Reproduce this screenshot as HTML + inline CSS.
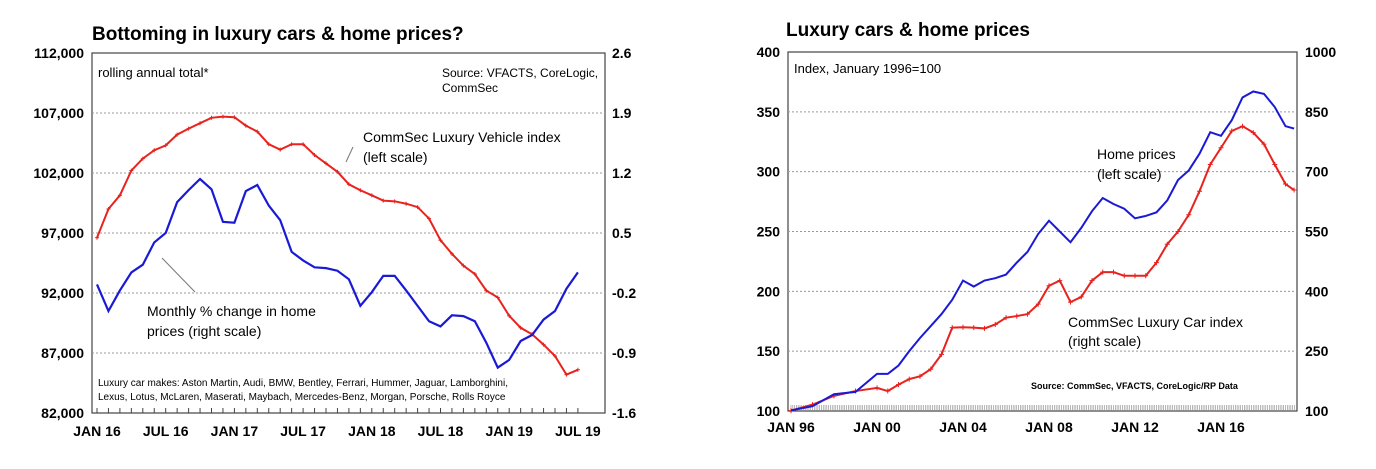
<!DOCTYPE html>
<html><head><meta charset="utf-8"><style>
body{margin:0;background:#fff;width:1376px;height:464px;overflow:hidden;font-family:"Liberation Sans",Arial,sans-serif}
svg text{font-family:"Liberation Sans",Arial,sans-serif}
</style></head><body>
<svg id="s" width="1376" height="464">
<text x="92" y="40" font-size="19" font-weight="bold">Bottoming in luxury cars &amp; home prices?</text>
<text x="786" y="36" font-size="19" font-weight="bold">Luxury cars &amp; home prices</text>
<rect x="92" y="53" width="513" height="360" fill="none" stroke="#444" stroke-width="1.2"/>
<rect x="788" y="52" width="509" height="359" fill="none" stroke="#444" stroke-width="1.2"/>
<g id="L"></g><g id="R"></g>
<text x="98" y="77" font-size="13">rolling annual total*</text>
<text x="442" y="77" font-size="12">Source: VFACTS, CoreLogic,</text>
<text x="442" y="92" font-size="12">CommSec</text>
<text x="363" y="142" font-size="14">CommSec Luxury Vehicle index</text>
<text x="363" y="162" font-size="14">(left scale)</text>
<line x1="353" y1="147" x2="346" y2="162" stroke="#777"/>
<text x="147" y="316" font-size="14">Monthly % change in home</text>
<text x="147" y="336" font-size="14">prices (right scale)</text>
<line x1="162" y1="258" x2="195" y2="292" stroke="#777"/>
<text x="98" y="386" font-size="10">Luxury car makes: Aston Martin, Audi, BMW, Bentley, Ferrari, Hummer, Jaguar, Lamborghini,</text>
<text x="98" y="400" font-size="10">Lexus, Lotus, McLaren, Maserati, Maybach, Mercedes-Benz, Morgan, Porsche, Rolls Royce</text>
<text x="794" y="73" font-size="13">Index, January 1996=100</text>
<text x="1097" y="159" font-size="14">Home prices</text>
<text x="1097" y="179" font-size="14">(left scale)</text>
<text x="1068" y="327" font-size="14">CommSec Luxury Car index</text>
<text x="1068" y="346" font-size="14">(right scale)</text>
<text x="1031" y="389" font-size="9" font-weight="bold">Source: CommSec, VFACTS, CoreLogic/RP Data</text>
</svg>
<script>
const leftCats=43;
const luxVals=[96600,99000,100140,102200,103200,103900,104300,105200,105700,106150,106600,106700,106650,105950,105450,104400,103950,104400,104400,103500,102800,102100,101060,100560,100140,99700,99640,99440,99160,98200,96400,95260,94280,93580,92200,91630,90100,89100,88560,87700,86750,85200,85600];
const homeChg=[-0.10,-0.41,-0.17,0.04,0.13,0.39,0.50,0.86,1.0,1.13,1.01,0.63,0.62,0.99,1.06,0.82,0.65,0.28,0.18,0.10,0.09,0.06,-0.04,-0.35,-0.19,0.0,0.0,-0.17,-0.35,-0.53,-0.59,-0.46,-0.47,-0.53,-0.78,-1.07,-0.98,-0.76,-0.69,-0.51,-0.41,-0.15,0.04];
const leftTicks=["112,000","107,000","102,000","97,000","92,000","87,000","82,000"];
const rightTicksL=["2.6","1.9","1.2","0.5","-0.2","-0.9","-1.6"];
const leftXLabels=["JAN 16","JUL 16","JAN 17","JUL 17","JAN 18","JUL 18","JAN 19","JUL 19"];
const years=[1996,1997,1998,1999,2000,2000.5,2001,2001.5,2002,2002.5,2003,2003.5,2004,2004.5,2005,2005.5,2006,2006.5,2007,2007.5,2008,2008.5,2009,2009.5,2010,2010.5,2011,2011.5,2012,2012.5,2013,2013.5,2014,2014.5,2015,2015.5,2016,2016.5,2017,2017.5,2018,2018.5,2019,2019.4];
const homeIdx=[100.5,104,114,116,131,131,138,150,161,171,181,193,209,204,209,211,214,224,233,248,259,250,241,253,267,278,273,269,261,263,266,276,293,301,315,333,330,343,362,367,365,354,338,336];
const carIdx=[101,116,138,150,158,150,166,180,187,205,242,309,310,309,307,317,334,338,343,368,414,427,373,386,427,448,448,439,439,439,472,518,550,592,651,718,760,802,814,798,769,718,669,654];
const rTicksL=["400","350","300","250","200","150","100"];
const rTicksR=["1000","850","700","550","400","250","100"];
const rXLabels=["JAN 96","JAN 00","JAN 04","JAN 08","JAN 12","JAN 16"];
const NS="http://www.w3.org/2000/svg";
function mk(p,t,a){const e=document.createElementNS(NS,t);for(const k in a)e.setAttribute(k,a[k]);p.appendChild(e);return e;}
// left
const L=document.getElementById('L');
const lx=i=>97+i*11.45, ly=v=>53+(112000-v)*360/30000, ry=v=>53+(2.6-v)*360/4.2;
leftTicks.forEach((t,k)=>{const y=53+k*60;
 if(k>0&&k<6){const g=mk(L,'line',{x1:92,x2:605,y1:y,y2:y,stroke:'#999','stroke-dasharray':'2,2'});
 
 }
 const a=mk(L,'text',{x:84,y:y+5,'font-size':14,'font-weight':'bold','text-anchor':'end'});a.textContent=t;
 
 
 const b=mk(L,'text',{x:612,y:y+5,'font-size':14,'font-weight':'bold'});b.textContent=rightTicksL[k];
 
 });
for(let i=0;i<leftCats;i++){const t=mk(L,'line',{x1:lx(i),x2:lx(i),y1:408,y2:413,stroke:'#444'});
 
 }
leftXLabels.forEach((t,k)=>{const a=mk(L,'text',{x:lx(k*6),y:436,'font-size':14,'font-weight':'bold','text-anchor':'middle'});a.textContent=t;
 
 });
let p=mk(L,'polyline',{points:luxVals.map((v,i)=>lx(i)+','+ly(v)).join(' '),fill:'none',stroke:'#e8231e','stroke-width':2});


luxVals.forEach((v,i)=>{const m=mk(L,'path',{d:`M${lx(i)-2},${ly(v)}h4M${lx(i)},${ly(v)-2}v4`,stroke:'#e8231e','stroke-width':1});
 
 });
p=mk(L,'polyline',{points:homeChg.map((v,i)=>lx(i)+','+ry(v)).join(' '),fill:'none',stroke:'#1a1ad6','stroke-width':2.2});


// right
const R=document.getElementById('R');
const X=y=>791+(y-1996)*21.5, Y=v=>52+(400-v)*359/300, Y2=v=>Y(100+(v-100)/3);
rTicksL.forEach((t,k)=>{const y=52+k*359/6;
 if(k>0&&k<6){const g=mk(R,'line',{x1:788,x2:1297,y1:y,y2:y,stroke:'#999','stroke-dasharray':'2,2'});
 
 }
 const a=mk(R,'text',{x:780,y:y+5,'font-size':14,'font-weight':'bold','text-anchor':'end'});a.textContent=t;
 
 
 const b=mk(R,'text',{x:1305,y:y+5,'font-size':14,'font-weight':'bold'});b.textContent=rTicksR[k];
 
 });
for(let m=0;m<282;m++){const x=X(1996+m/12);const t=mk(R,'line',{x1:x,x2:x,y1:405,y2:411,stroke:'#888','stroke-width':0.6});
 
 }
rXLabels.forEach((t,k)=>{const a=mk(R,'text',{x:X(1996+k*4),y:432,'font-size':14,'font-weight':'bold','text-anchor':'middle'});a.textContent=t;
 
 });
p=mk(R,'polyline',{points:carIdx.map((v,i)=>X(years[i])+','+Y2(v)).join(' '),fill:'none',stroke:'#e8231e','stroke-width':2});


carIdx.forEach((v,i)=>{const x=X(years[i]),y=Y2(v);const m=mk(R,'path',{d:`M${x-2.5},${y}h5M${x},${y-2.5}v5`,stroke:'#e8231e','stroke-width':1});
 
 });
p=mk(R,'polyline',{points:homeIdx.map((v,i)=>X(years[i])+','+Y(v)).join(' '),fill:'none',stroke:'#1a1ad6','stroke-width':2});


</script>
</body></html>
